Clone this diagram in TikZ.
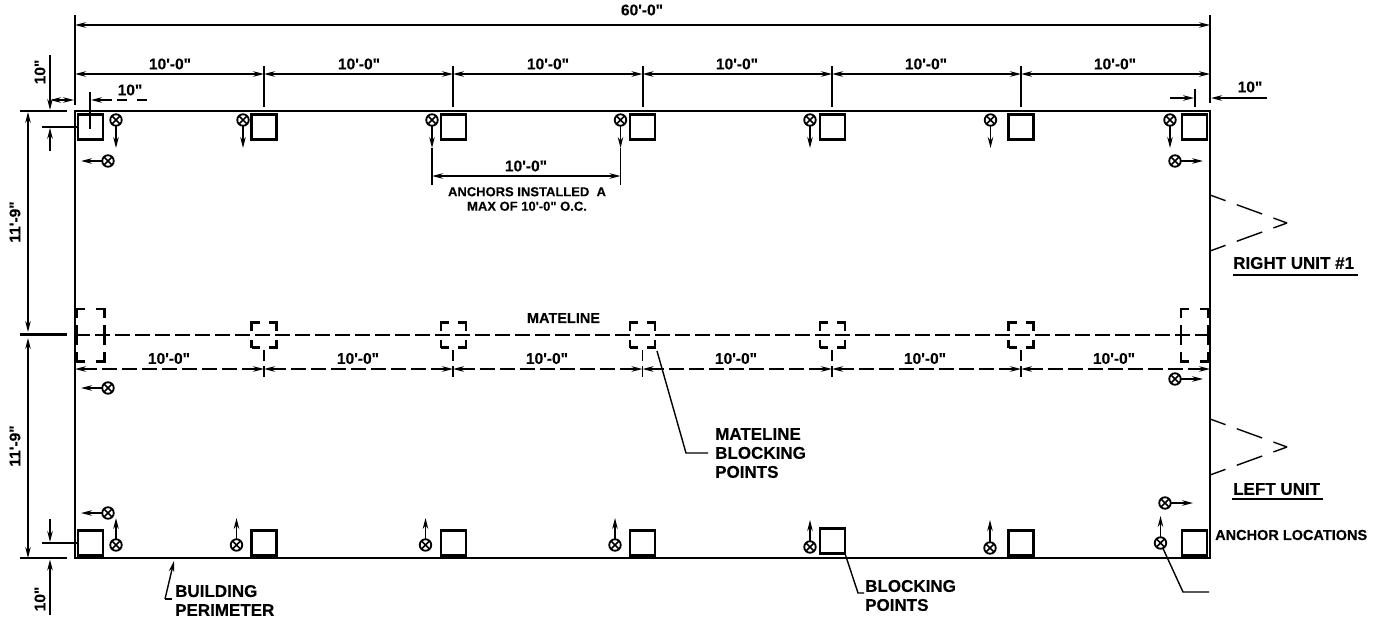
\documentclass[tikz,border=0pt]{standalone}
\usepackage{fontspec}
\setmainfont{Liberation Sans}[Ligatures=TeXOff,BoldFeatures={FakeBold=0.25}]
\usetikzlibrary{arrows.meta}
\tikzset{
  line/.style={line width=1.4pt,black},
  wall/.style={line width=2pt,black},
  tipb/.style={-{Stealth[length=11pt,width=5.5pt]}},
  both/.style={{Stealth[length=11pt,width=5.5pt]}-{Stealth[length=11pt,width=5.5pt]}},
  blockpt/.style={draw,line width=2.8pt,minimum size=25pt,inner sep=0pt,outer sep=0pt},
  mateblock/.style={draw,line width=2.6pt,minimum size=25pt,inner sep=0pt,dash pattern=on 16 off 9,dash phase=8},
  anchorpt/.style={circle,draw,line width=1.8pt,minimum size=11.5pt,inner sep=0pt,outer sep=0pt,
    path picture={\draw[line width=1.6pt] (path picture bounding box.north west)--(path picture bounding box.south east)
      (path picture bounding box.north east)--(path picture bounding box.south west);}},
  txt/.style={font=\fontsize{17}{19}\selectfont\bfseries,inner sep=0pt,align=left},
  dimlab/.style={font=\fontsize{15.5}{17}\selectfont\bfseries,inner sep=0pt},
  smalltxt/.style={font=\fontsize{13}{14.5}\selectfont\bfseries,inner sep=0pt,align=center},
  mdash/.style={line width=1.7pt,dash pattern=on 15 off 5},
  chevron/.style={line width=1.4pt,dash pattern=on 16.5 off 12 on 27 off 12 on 17},
}
\newcommand{\anc}[5]{%
  \node[anchorpt] (#1) at (#2,#3) {};
  \coordinate (#1e) at (#4,#5);
  \draw[line,tipb] (#1) -- (#1e);}
\begin{document}
\begin{tikzpicture}[x=1pt,y=-1pt]
\useasboundingbox (0,0) rectangle (1374,621);
\fill[white] (0,0) rectangle (1374,621);
% building
\coordinate (NW) at (75,111); \coordinate (NE) at (1210,111);
\coordinate (SW) at (75,558); \coordinate (SE) at (1210,558);
\draw[wall] (NW) -- (NE) -- (SE) -- (SW) -- cycle;
% top grid ticks
\foreach \i/\x in {0/75,1/264,2/453,3/642.5,4/832,5/1021,6/1210}{
  \coordinate (tt\i) at (\x,74);
  \coordinate (mt\i) at (\x,369);
}
\coordinate (wl) at (75,15); \coordinate (wlb) at (75,105);
\coordinate (wr) at (1210,15); \coordinate (wrb) at (1210,103);
\draw[wall] (wl) -- (wlb); \draw[wall] (wr) -- (wrb);
\coordinate (L60) at (75,25); \coordinate (R60) at (1210,25);
\draw[line,both] (L60) -- (R60);
\node[dimlab] (d60) at (642,10) {60'-0"};
\foreach \i/\j/\c in {0/1/170,1/2/359,2/3/548,3/4/737,4/5/926,5/6/1115}{
  \draw[line,both] (tt\i) -- (tt\j);
  \node[dimlab] (dt\i) at (\c,64) {10'-0"};
  \draw[line,both,line width=1.5pt,dash pattern=on 15 off 5] (mt\i) -- (mt\j);
  \node[dimlab] (dm\i) at (\c-1,358.5) {10'-0"};
}
\foreach \i/\x in {1/264,2/453,3/642.5,4/832,5/1021}{
  \coordinate (ta\i) at (\x,66); \coordinate (tb\i) at (\x,107);
  \draw[wall] (ta\i) -- (tb\i);
  \coordinate (ma\i) at (\x,350); \coordinate (mb\i) at (\x,378);
  \draw[line width=1.6pt,dash pattern=on 11 off 5] (ma\i) -- (mb\i);
}
% top blocks
\foreach \i/\x/\y in {1/90.5/127,2/264/127,3/453.5/127,4/642.5/127,5/832.5/127,6/1021/127,7/1194.5/127}{
  \node[blockpt] (bt\i) at (\x,\y) {};
}
% bottom blocks
\foreach \i/\x/\y in {1/90.5/543,2/264/543,3/453.5/543,4/642.5/543,5/832.5/541,6/1021/543,7/1194.5/543}{
  \node[blockpt] (bb\i) at (\x,\y) {};
}
% mateline blocks
\foreach \i/\x in {2/264,3/453.5,4/642.5,5/832.5,6/1021}{
  \node[mateblock] (bm\i) at (\x,335) {};
}
\foreach \n/\x in {bmL/77,bmR/1181}{
  \node[inner sep=0pt,minimum width=27pt,minimum height=52pt] (\n) at (\x+13.5,335) {};
  \draw[line width=2.6pt] ([xshift=8]\n.north west) -- (\n.north west) -- ([yshift=-9]\n.north west);
  \draw[line width=2.6pt] ([xshift=-8]\n.north east) -- (\n.north east) -- ([yshift=-9]\n.north east);
  \draw[line width=2.6pt] ([xshift=8]\n.south west) -- (\n.south west) -- ([yshift=9]\n.south west);
  \draw[line width=2.6pt] ([xshift=-8]\n.south east) -- (\n.south east) -- ([yshift=9]\n.south east);
  \draw[line width=2.6pt] ([yshift=10]\n.west) -- ([yshift=-10]\n.west);
  \draw[line width=2.6pt] ([yshift=10]\n.east) -- ([yshift=-10]\n.east);
}
% mateline
\coordinate (ml) at (75,335); \coordinate (mr) at (1210,335);
\draw[mdash] (ml) -- (mr);
\node[txt,font=\fontsize{14.5}{18}\selectfont\bfseries] (mate) at (563.5,318) {MATELINE};
% anchors top
\anc{at1}{116}{120}{116}{148}
\anc{at2}{243}{120}{243}{148}
\anc{at3}{432}{120}{432}{148}
\anc{at4}{620.5}{120}{620.5}{148}
\anc{at5}{810}{120}{810}{148}
\anc{at6}{990.5}{120}{990.5}{148}
\anc{at7}{1170}{120}{1170}{148}
\anc{as1}{108}{161}{81}{161}
\anc{as2}{1175}{161}{1203}{161}
\anc{as3}{108}{388}{81}{388}
\anc{as4}{1175}{379}{1203}{379}
\anc{as5}{108}{513}{81}{513}
\anc{as6}{1165}{503}{1193}{503}
% anchors bottom
\anc{ab1}{116}{545}{116}{518}
\anc{ab2}{236.5}{545}{236.5}{518}
\anc{ab3}{425.5}{545}{425.5}{518}
\anc{ab4}{615}{545}{615}{518}
\anc{ab5}{810}{547}{810}{520}
\anc{ab6}{990}{548}{990}{520}
\anc{ab7}{1160.5}{543}{1160.5}{516}
% anchor spacing dim
\coordinate (sa) at (432,148); \coordinate (sb) at (432,185);
\coordinate (sc) at (620.5,148); \coordinate (sd) at (620.5,185);
\draw[line] (sa) -- (sb); \draw[line] (sc) -- (sd);
\coordinate (se) at (432,176); \coordinate (sf) at (620.5,176);
\draw[line,both] (se) -- (sf);
\node[dimlab] (d10a) at (526,166) {10'-0"};
\node[smalltxt] (note) at (527,199) {ANCHORS INSTALLED\ \ A\\MAX OF 10'-0" O.C.};
% left dims
\foreach \n/\y in {lt/111,lb/558}{
  \coordinate (\n a) at (20,\y); \coordinate (\n b) at (67,\y);
  \draw[wall] (\n a) -- (\n b);
}
\coordinate (lma) at (20,334.5); \coordinate (lmb) at (67,334.5);
\draw[line width=3.2pt] (lma) -- (lmb);
\coordinate (v1) at (28,112); \coordinate (v2) at (28,332); \coordinate (v3) at (28,338); \coordinate (v4) at (28,558);
\draw[line,both] (v1) -- (v2);
\draw[line,both] (v3) -- (v4);
\node[dimlab,rotate=90] (d11a) at (15,222) {11'-9"};
\node[dimlab,rotate=90] (d11b) at (15,446) {11'-9"};
% corner 10 inch dims
\coordinate (c1) at (50,55); \coordinate (c2) at (50,110);
\draw[line,tipb] (c1) -- (c2);
\node[dimlab,rotate=90] (d10b) at (40,72) {10"};
\coordinate (c3) at (50,100); \coordinate (c4) at (74,100);
\draw[line,both] (c3) -- (c4);
\coordinate (c5) at (42,127); \coordinate (c6) at (50,151); \coordinate (c7) at (50,127.8);
\draw[line] (c5) -- (bt1.west);
\draw[line,tipb] (c6) -- (c7);
\coordinate (c8) at (42,543); \coordinate (c9) at (50,519); \coordinate (c10) at (50,542);
\draw[line] (c8) -- (bb1.west);
\draw[line,tipb] (c9) -- (c10);
\coordinate (c11) at (50,615); \coordinate (c12) at (50,559.5);
\draw[line,tipb] (c11) -- (c12);
\node[dimlab,rotate=90] (d10c) at (40,599) {10"};
% inner 10 inch
\coordinate (i1) at (90,92); \coordinate (i2) at (90,129);
\draw[line] (i1) -- (i2);
\coordinate (i3) at (112,100); \coordinate (i4) at (91,100);
\draw[line,tipb] (i3) -- (i4);
\coordinate (i5) at (117,100); \coordinate (i6) at (147,100);
\draw[line,dash pattern=on 10 off 10] (i5) -- (i6);
\node[dimlab] (d10d) at (130,90) {10"};
% right 10 inch
\coordinate (r1) at (1195,89); \coordinate (r2) at (1195,107);
\draw[line] (r1) -- (r2);
\coordinate (r3) at (1170,98); \coordinate (r4) at (1194,98);
\draw[line,tipb] (r3) -- (r4);
\coordinate (r5) at (1267,98); \coordinate (r6) at (1211,98);
\draw[line,tipb] (r5) -- (r6);
\node[dimlab] (d10e) at (1250,87) {10"};
% chevrons
\coordinate (u1) at (1210,195); \coordinate (u2) at (1287,223); \coordinate (u3) at (1210,251);
\draw[chevron] (u1) -- (u2);
\draw[chevron] (u3) -- (u2);
\coordinate (w1) at (1210,419); \coordinate (w2) at (1287,447); \coordinate (w3) at (1210,475);
\draw[chevron] (w1) -- (w2);
\draw[chevron] (w3) -- (w2);
% labels
\node[txt,anchor=west] (ru) at (1233,263) {RIGHT UNIT \#1};
\coordinate (ru1) at (1233,275); \coordinate (ru2) at (1358,275);
\draw[wall] (ru1) -- (ru2);
\node[txt,anchor=west] (lu) at (1233,489) {LEFT UNIT};
\coordinate (lu1) at (1232,499); \coordinate (lu2) at (1323,499);
\draw[wall] (lu1) -- (lu2);
\node[dimlab,anchor=west,font=\fontsize{14.5}{17}\selectfont\bfseries] (al) at (1215,535) {ANCHOR LOCATIONS};
\coordinate (al1) at (1183,592); \coordinate (al2) at (1209,592);
\draw[line] (ab7) -- (al1) -- (al2);
% leaders
\node[txt,anchor=west] (mb) at (715,453) {MATELINE\\BLOCKING\\POINTS};
\coordinate (m1) at (657,351); \coordinate (m2) at (686,453); \coordinate (m3) at (708,453);
\draw[line] (m1) -- (m2) -- (m3);
\node[txt,anchor=west] (bp) at (865,595.5) {BLOCKING\\POINTS};
\coordinate (b2) at (858,593); \coordinate (b3) at (864,593);
\draw[line] (bb5.south east) -- (b2) -- (b3);
\node[txt,anchor=west] (pm) at (175,600.5) {BUILDING\\PERIMETER};
\coordinate (p1) at (174,561); \coordinate (p2) at (165,599); \coordinate (p3) at (172,599);
\draw[line,tipb] (p2) -- (p1);
\draw[line] (p2) -- (p3);
\end{tikzpicture}
\end{document}
